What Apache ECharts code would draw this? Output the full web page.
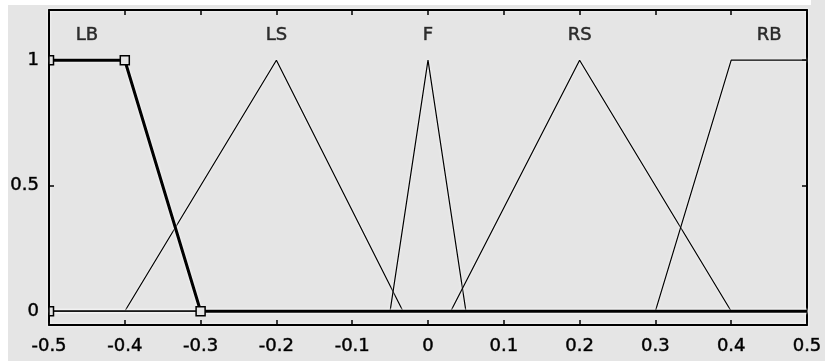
<!DOCTYPE html>
<html>
<head>
<meta charset="utf-8">
<script src="https://cdn.jsdelivr.net/npm/echarts@6/dist/echarts.min.js"></script>
<style>
  html, body { margin: 0; padding: 0; background: #ffffff; }
  #chart { width: 825px; height: 363px; }
</style>
</head>
<body>
<div id="chart"></div>
<script>
// Membership functions of the input variable, as breakpoints (x, degree)
const mfNames = ['LB', 'LS', 'F', 'RS', 'RB'];
const lbPoints = [[-0.5, 1], [-0.4, 1], [-0.3, 0], [0.5, 0]];
const lsPoints = [[-0.5, 0], [-0.4, 0], [-0.2, 1], [-0.033, 0], [0.5, 0]];
const fPoints  = [[-0.5, 0], [-0.05, 0], [0, 1], [0.05, 0], [0.5, 0]];
const rsPoints = [[-0.5, 0], [0.03, 0], [0.2, 1], [0.4, 0], [0.5, 0]];
const rbPoints = [[-0.5, 0], [0.3, 0], [0.4, 1], [0.5, 1]];
// Parameter handles of the selected function (LB)
const lbHandles = [[-0.5, 0], [-0.5, 1], [-0.4, 1], [-0.3, 0]];
const selectedName = 'LB';
const nameLevel = 1.1;

const xTicks = [-0.5, -0.4, -0.3, -0.2, -0.1, 0, 0.1, 0.2, 0.3, 0.4, 0.5];
const xTickLabels = ['-0.5', '-0.4', '-0.3', '-0.2', '-0.1', '0', '0.1', '0.2', '0.3', '0.4', '0.5'];
const yTicks = [0, 0.5, 1];
const yTickLabels = ['0', '0.5', '1'];

const mfPoints = [lbPoints, lsPoints, fPoints, rsPoints, rbPoints];

const FIG_BG = '#e5e5e5';
const FONT = 'DejaVu Sans';
const halo = { shadowColor: 'rgba(255,255,255,0.95)', shadowBlur: 3 };
const textStyle = {
  fontFamily: FONT, fontSize: 18, fontWeight: 'normal', color: '#000',
  textBorderColor: 'rgba(0,0,0,0.75)', textBorderWidth: 0.6
};

function lookup(values, labels, v) {
  for (let i = 0; i < values.length; i++) {
    if (Math.abs(values[i] - v) < 1e-6) return labels[i];
  }
  return '';
}

// Name of each function sits above the middle of its top (degree 1) part
const nameData = mfPoints.map((pts, i) => {
  const top = pts.filter(p => p[1] === 1).map(p => p[0]);
  const cx = (Math.min(...top) + Math.max(...top)) / 2;
  return [cx, nameLevel, mfNames[i]];
});

const lineSeries = mfPoints.map((pts, i) => {
  const selected = mfNames[i] === selectedName;
  return {
    type: 'line',
    name: mfNames[i],
    data: pts,
    symbol: 'none',
    clip: true,
    z: selected ? 4 : 3,
    lineStyle: Object.assign({ color: '#000', width: selected ? 3 : 1.2 }, halo),
    animation: false
  };
});

const chart = echarts.init(document.getElementById('chart'), null, { renderer: 'canvas' });

const axisCommon = {
  type: 'value',
  axisLine: { show: true, onZero: false, lineStyle: Object.assign({ color: '#000', width: 2 }, halo) },
  axisTick: { show: true, inside: true, length: 5, lineStyle: { color: '#000', width: 1.5 } },
  splitLine: { show: false }
};

chart.setOption({
  animation: false,
  backgroundColor: '#ffffff',
  graphic: [
    { type: 'rect', z: -100, silent: true, shape: { x: 8, y: 5, width: 817, height: 356 }, style: { fill: FIG_BG } },
    { type: 'rect', z: -100, silent: true, shape: { x: 811, y: 0, width: 14, height: 6 }, style: { fill: FIG_BG } }
  ],
  grid: { left: 49, right: 18, top: 10, bottom: 38, containLabel: false },
  xAxis: [
    Object.assign({}, axisCommon, {
      position: 'bottom',
      min: -0.5, max: 0.5, interval: 0.1,
      axisLabel: Object.assign({
        show: true, margin: 12,
        formatter: v => lookup(xTicks, xTickLabels, v)
      }, textStyle)
    }),
    Object.assign({}, axisCommon, {
      position: 'top',
      min: -0.5, max: 0.5, interval: 0.1,
      axisLabel: { show: false }
    })
  ],
  yAxis: [
    Object.assign({}, axisCommon, {
      position: 'left',
      min: -0.055, max: 1.2,
      axisTick: Object.assign({}, axisCommon.axisTick, { customValues: yTicks }),
      axisLabel: Object.assign({
        show: true, margin: 10,
        customValues: yTicks,
        formatter: v => lookup(yTicks, yTickLabels, v)
      }, textStyle)
    }),
    Object.assign({}, axisCommon, {
      position: 'right',
      min: -0.055, max: 1.2,
      axisTick: Object.assign({}, axisCommon.axisTick, { customValues: yTicks }),
      axisLabel: { show: false }
    })
  ],
  series: lineSeries.concat([
    {
      type: 'custom',
      name: 'handles',
      data: lbHandles,
      z: 6,
      renderItem: function (params, api) {
        const p = api.coord([api.value(0), api.value(1)]);
        const s = 9;
        const cs = params.coordSys;
        const rect = echarts.graphic.clipRectByRect(
          { x: p[0] - s / 2, y: p[1] - s / 2, width: s, height: s },
          { x: cs.x, y: cs.y, width: cs.width, height: cs.height }
        );
        if (!rect) return null;
        return {
          type: 'rect',
          shape: rect,
          style: { fill: FIG_BG, stroke: '#000', lineWidth: 1.5 }
        };
      }
    },
    {
      type: 'scatter',
      name: 'names',
      data: nameData,
      symbolSize: 0,
      z: 7,
      label: Object.assign({
        show: true, position: 'inside',
        formatter: p => p.data[2]
      }, textStyle)
    }
  ])
});
</script>
</body>
</html>
